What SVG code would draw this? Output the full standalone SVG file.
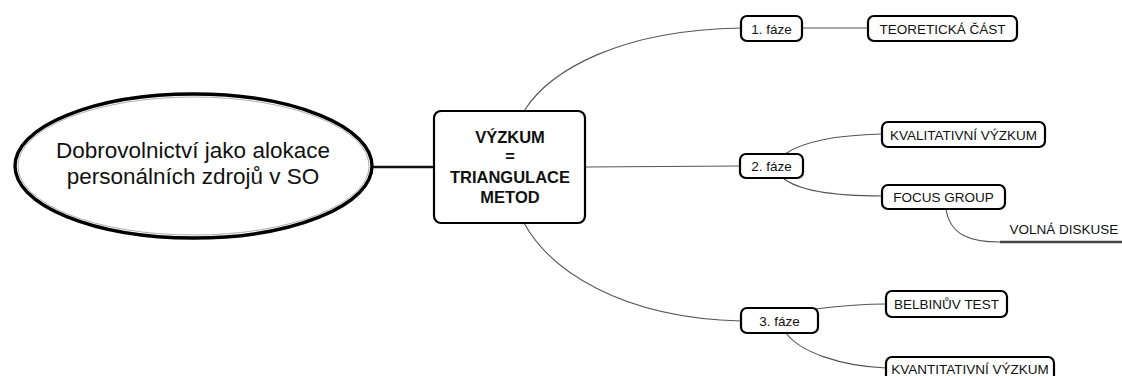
<svg xmlns="http://www.w3.org/2000/svg" width="1122" height="376" viewBox="0 0 1122 376">
<style>
  .bg{fill:#ffffff}
  .box{fill:#ffffff;stroke:#000000;stroke-width:2.2}
  .t{font-family:"Liberation Sans",Arial,sans-serif;font-size:13.5px;fill:#111111;text-anchor:middle}
  .tb{font-family:"Liberation Sans",Arial,sans-serif;font-size:16.5px;font-weight:bold;fill:#111111;text-anchor:middle}
  .tm{font-family:"Liberation Sans",Arial,sans-serif;font-size:22.5px;fill:#111111;text-anchor:middle}
  .c{fill:none;stroke:#555555;stroke-width:1.1}
</style>
<rect class="bg" x="0" y="0" width="1122" height="376"/>
<g id="connectors">
  <line x1="370" y1="167" x2="434" y2="167" stroke="#111111" stroke-width="2.6"/>
  <path class="c" d="M524,111 C550,70 620,30 741,28"/>
  <path class="c" d="M585,167 L740,166"/>
  <path class="c" d="M524,223 C550,270 620,318 741,321"/>
  <path class="c" d="M802,28 L868,28" stroke-width="1.5"/>
  <path class="c" d="M785,154 C805,140 840,135 882,134"/>
  <path class="c" d="M783,178 C800,192 840,196 882,196"/>
  <path class="c" d="M946,209 C950,235 970,242 1000,242"/>
  <line x1="1000" y1="242" x2="1122" y2="242" stroke="#444444" stroke-width="2.5"/>
  <path class="c" d="M815,309 C840,306 860,304 886,304"/>
  <path class="c" d="M786,333 C800,352 840,366 886,368"/>
</g>
<g id="root">
  <ellipse cx="193.5" cy="166" rx="178.5" ry="72" fill="#ffffff" stroke="#000000" stroke-width="3.4"/>
  <ellipse cx="193.5" cy="166" rx="175.5" ry="69" fill="none" stroke="#999999" stroke-width="0.8"/>
  <text class="tm" x="193" y="158">Dobrovolnictví jako alokace</text>
  <text class="tm" x="193" y="184">personálních zdrojů v SO</text>
</g>
<g id="vyzkum">
  <rect class="box" x="434" y="111" width="151" height="112" rx="7" stroke-width="2.8"/>
  <text class="tb" x="510" y="142.5">VÝZKUM</text>
  <text class="tb" x="510" y="162">=</text>
  <text class="tb" x="510" y="183">TRIANGULACE</text>
  <text class="tb" x="510" y="202.5">METOD</text>
</g>
<g id="faze1">
  <rect class="box" x="741" y="16" width="61" height="25" rx="6"/>
  <text class="t" x="771.5" y="33.5">1. fáze</text>
</g>
<g id="teoreticka">
  <rect class="box" x="868" y="16" width="149" height="25" rx="6"/>
  <text class="t" x="942.5" y="33.5">TEORETICKÁ ČÁST</text>
</g>
<g id="faze2">
  <rect class="box" x="740" y="154" width="63" height="24" rx="6"/>
  <text class="t" x="771.5" y="171">2. fáze</text>
</g>
<g id="kvalitativni">
  <rect class="box" x="882" y="122" width="163" height="25" rx="6"/>
  <text class="t" x="963.5" y="139.5">KVALITATIVNÍ VÝZKUM</text>
</g>
<g id="focus">
  <rect class="box" x="882" y="185" width="123" height="24" rx="6"/>
  <text class="t" x="943.5" y="201.5">FOCUS GROUP</text>
</g>
<g id="volna">
  <text class="t" x="1064" y="233.5">VOLNÁ DISKUSE</text>
</g>
<g id="faze3">
  <rect class="box" x="741" y="308" width="77" height="25" rx="6"/>
  <text class="t" x="779.5" y="325.5">3. fáze</text>
</g>
<g id="belbin">
  <rect class="box" x="886" y="291" width="121" height="26" rx="6"/>
  <text class="t" x="946.5" y="308.5">BELBINŮV TEST</text>
</g>
<g id="kvantitativni">
  <rect class="box" x="886" y="357" width="168" height="26" rx="6"/>
  <text class="t" x="970" y="374">KVANTITATIVNÍ VÝZKUM</text>
</g>
</svg>
